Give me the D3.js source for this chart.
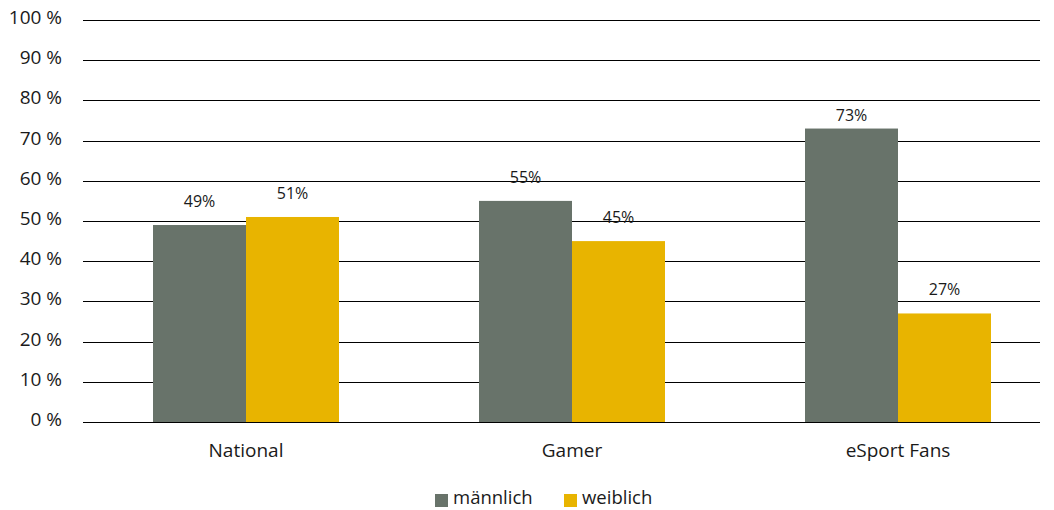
<!DOCTYPE html>
<html><head><meta charset="utf-8">
<script src="https://cdn.jsdelivr.net/npm/d3@7"></script>
<style>body{margin:0;background:#fff}svg{display:block}text{font-family:"Open Sans",sans-serif;fill:#1a1a1a}</style>
</head><body><svg id="c" width="1054" height="510"></svg>
<script>
const categories = ["National", "Gamer", "eSport Fans"];
const seriesNames = ["männlich", "weiblich"];
const maleValues = [49, 55, 73];
const femaleValues = [51, 45, 27];
const yTicks = [0, 10, 20, 30, 40, 50, 60, 70, 80, 90, 100];
const colors = ["#68736a", "#e8b400"];

const svg = d3.select("#c");
const y = d3.scaleLinear().domain([0, 100]).range([422, 20]);
const x = d3.scaleBand().domain(categories).range([83, 1061]).paddingInner(140/326).paddingOuter(70/326);
const xs = d3.scaleBand().domain(seriesNames).range([0, x.bandwidth()]);

// gridlines
svg.append("g").selectAll("line").data(yTicks).join("line")
  .attr("x1", 83).attr("x2", 1040)
  .attr("y1", d => Math.round(y(d)) + 0.5).attr("y2", d => Math.round(y(d)) + 0.5)
  .attr("stroke", "#000").attr("stroke-width", 1);
svg.append("g").selectAll("text").data(yTicks).join("text")
  .attr("x", 62).attr("y", d => y(d) + 4).attr("text-anchor", "end")
  .attr("font-size", 19).text(d => d + " %");

const data = categories.map((c, i) => ({c, vals: [maleValues[i], femaleValues[i]]}));
const g = svg.append("g").selectAll("g").data(data).join("g")
  .attr("transform", d => `translate(${x(d.c)},0)`);
g.selectAll("rect").data(d => d.vals.map((v, j) => ({v, s: seriesNames[j], j}))).join("rect")
  .attr("x", d => xs(d.s)).attr("width", xs.bandwidth())
  .attr("y", d => y(d.v)).attr("height", d => y(0) - y(d.v))
  .attr("fill", d => colors[d.j]);
g.selectAll("text.v").data(d => d.vals.map((v, j) => ({v, s: seriesNames[j], j}))).join("text")
  .attr("class", "v")
  .attr("x", d => xs(d.s) + xs.bandwidth() / 2)
  .attr("y", d => Math.max(y(d.v) - 18, y(70) - 20))
  .attr("text-anchor", "middle").attr("font-size", 16).text(d => d.v + "%");

svg.append("g").selectAll("text").data(categories).join("text")
  .attr("x", d => x(d) + x.bandwidth() / 2).attr("y", 457)
  .attr("text-anchor", "middle").attr("font-size", 19).text(d => d);

// legend
const legend = [{n: seriesNames[0], x: 435}, {n: seriesNames[1], x: 564}];
const lg = svg.append("g").selectAll("g").data(legend).join("g")
  .attr("transform", d => `translate(${d.x},0)`);
lg.append("rect").attr("x", 0).attr("y", 494).attr("width", 13).attr("height", 13)
  .attr("fill", (d, i) => colors[i]);
lg.append("text").attr("x", 18).attr("y", 504).attr("font-size", 18.5).text(d => d.n);
</script></body></html>
